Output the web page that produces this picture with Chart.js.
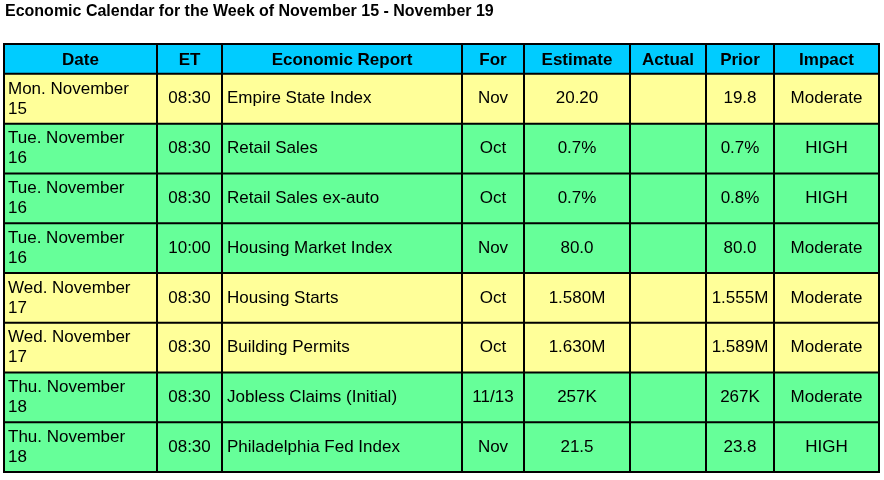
<!DOCTYPE html>
<html><head><meta charset="utf-8">
<script src="https://cdn.jsdelivr.net/npm/chart.js@4"></script>
<style>body{margin:0;background:#fff}canvas{display:block}</style>
</head><body>
<canvas id="c" width="884" height="480"></canvas>
<script>
const title = "Economic Calendar for the Week of November 15 - November 19";
const headers = ["Date","ET","Economic Report","For","Estimate","Actual","Prior","Impact"];
const dates = ["Mon. November 15","Tue. November 16","Tue. November 16","Tue. November 16","Wed. November 17","Wed. November 17","Thu. November 18","Thu. November 18"];
const times = ["08:30","08:30","08:30","10:00","08:30","08:30","08:30","08:30"];
const reports = ["Empire State Index","Retail Sales","Retail Sales ex-auto","Housing Market Index","Housing Starts","Building Permits","Jobless Claims (Initial)","Philadelphia Fed Index"];
const periods = ["Nov","Oct","Oct","Nov","Oct","Oct","11/13","Nov"];
const estimates = ["20.20","0.7%","0.7%","80.0","1.580M","1.630M","257K","21.5"];
const actuals = ["","","","","","","",""];
const priors = ["19.8","0.7%","0.8%","80.0","1.555M","1.589M","267K","23.8"];
const impacts = ["Moderate","HIGH","HIGH","Moderate","Moderate","Moderate","Moderate","HIGH"];
const rowKind = ["y","g","g","g","y","y","g","g"];

const colEdges = [0,153,218,458,520,626,702,770,875];
const rowEdges = [0,0.6,1.6,2.6,3.6,4.6,5.6,6.6,7.6,8.6];
const fills = {h:"#00CCFF", y:"#FFFF99", g:"#66FF99"};
const FONT = "'Liberation Sans', Arial, sans-serif";

const tablePlugin = {
  id:'table',
  afterDraw(chart){
    const ctx = chart.ctx, xs = chart.scales.x, ys = chart.scales.y;
    const X = v=>xs.getPixelForValue(v), Y = v=>ys.getPixelForValue(v);
    ctx.save();
    ctx.fillStyle="#000"; ctx.font="bold 16px "+FONT; ctx.textBaseline="middle"; ctx.textAlign="left";
    ctx.fillText(title, 5, 12);
    const cols = [dates,times,reports,periods,estimates,actuals,priors,impacts];
    for(let r=0;r<9;r++){
      const y0=Y(rowEdges[r]), y1=Y(rowEdges[r+1]);
      ctx.fillStyle = r===0?fills.h:fills[rowKind[r-1]];
      ctx.fillRect(X(0),y0,X(875)-X(0),y1-y0);
      for(let c=0;c<8;c++){
        const x0=X(colEdges[c]), x1=X(colEdges[c+1]);
        ctx.fillStyle="#000";
        if(r===0){
          ctx.font="bold 17px "+FONT; ctx.textAlign="center";
          ctx.fillText(headers[c],(x0+x1)/2,(y0+y1)/2+1);
          continue;
        }
        const t = cols[c][r-1];
        ctx.font="17px "+FONT;
        if(c===0){
          ctx.textAlign="left";
          const i=t.lastIndexOf(" ");
          ctx.fillText(t.slice(0,i),x0+4,y0+15);
          ctx.fillText(t.slice(i+1),x0+4,y0+35);
        } else if(c===2){
          ctx.textAlign="left"; ctx.fillText(t,x0+5,(y0+y1)/2);
        } else {
          ctx.textAlign="center"; ctx.fillText(t,(x0+x1)/2,(y0+y1)/2);
        }
      }
    }
    ctx.strokeStyle="#000"; ctx.lineWidth=2;
    ctx.beginPath();
    rowEdges.forEach(v=>{ctx.moveTo(X(0)-1,Y(v));ctx.lineTo(X(875)+1,Y(v));});
    colEdges.forEach(v=>{ctx.moveTo(X(v),Y(0));ctx.lineTo(X(v),Y(8.6));});
    ctx.stroke();
    ctx.restore();
  }
};

new Chart(document.getElementById('c'),{
  type:'scatter',
  data:{datasets:[{data:[],pointRadius:0}]},
  options:{
    responsive:false, animation:false, devicePixelRatio:1,
    layout:{padding:{left:4,right:5,top:44,bottom:8}},
    plugins:{legend:{display:false},tooltip:{enabled:false},title:{display:false}},
    scales:{
      x:{type:'linear',min:0,max:875,display:false},
      y:{type:'linear',min:0,max:8.6,reverse:true,display:false}
    }
  },
  plugins:[tablePlugin]
});
</script>
</body></html>
